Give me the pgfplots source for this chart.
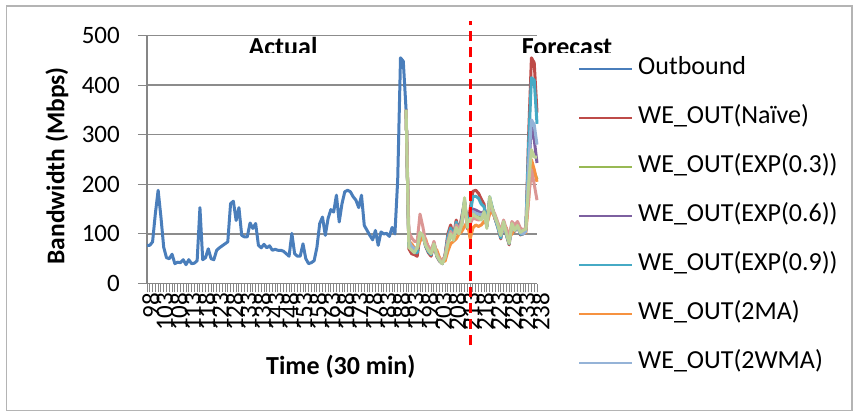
\documentclass[border=0pt]{standalone}
\usepackage{fontspec}
\setmainfont{Carlito}
\usepackage{pgfplots}
\pgfplotsset{compat=1.18}
\usepackage{pgfplotstable}

\definecolor{cOut}{HTML}{4A7EBB}
\definecolor{cRed}{HTML}{BE4B48}
\definecolor{cGreen}{HTML}{98B954}
\definecolor{cPurple}{HTML}{7D60A0}
\definecolor{cCyan}{HTML}{46AAC5}
\definecolor{cOrange}{HTML}{F69240}
\definecolor{cLBlue}{HTML}{95B3D7}
\definecolor{cPink}{HTML}{DB9694}
\definecolor{cLGreen}{HTML}{BCD196}
\definecolor{axisgray}{HTML}{868686}
\definecolor{gridgray}{HTML}{8C8C8C}
\definecolor{framegray}{HTML}{B4B4B4}

\pgfplotstableread{
t v
98 77
99 77
100 84
101 141
102 188
103 134
104 73
105 52
106 50
107 59
108 40
109 43
110 42
111 48
112 38
113 48
114 40
115 41
116 46
117 153
118 48
119 52
120 70
121 50
122 48
123 67
124 72
125 76
126 80
127 84
128 161
129 166
130 127
131 153
132 97
133 94
134 94
135 122
136 111
137 121
138 77
139 72
140 79
141 72
142 76
143 67
144 69
145 67
146 67
147 65
148 60
149 55
150 101
151 60
152 55
153 55
154 80
155 50
156 40
157 42
158 46
159 73
160 121
161 134
162 97
163 131
164 149
165 144
166 178
167 124
168 161
169 185
170 188
171 185
172 175
173 168
174 153
175 178
176 117
177 107
178 97
179 88
180 107
181 77
182 104
183 100
184 101
185 95
186 113
187 100
188 210
189 455
190 448
191 350
}\outbound

\pgfplotstableread{
t red green purple cyan orange lblue pink lgreen
191 350 350 350 350 350 350 350 350
192 70 78 82 75 85 85 105 73
193 60 70 70 68 80 75 92 67
194 58 66 66 62 72 70 85 62
195 55 72 70 62 70 72 85 73
196 95 100 98 100 85 100 140 103
197 100 97 97 98 95 98 115 97
198 75 80 78 76 90 80 85 77
199 62 68 66 64 72 68 75 67
200 55 62 60 58 62 62 65 60
201 82 78 80 82 70 78 85 80
202 55 60 58 56 68 60 60 57
203 45 50 48 46 52 48 50 47
204 40 43 42 40 45 42 45 40
205 58 52 55 56 45 53 55 53
206 100 78 88 95 65 85 85 80
207 118 98 105 112 80 100 105 100
208 95 92 92 94 85 90 92 87
209 128 110 115 124 90 112 118 113
210 105 105 105 106 100 104 108 100
211 135 118 125 130 105 120 125 120
212 165 160 165 168 115 160 155 173
213 110 125 118 112 125 120 118 113
214 150 128 130 140 90 125 120 130
215 186 140 150 175 112 145 132 140
216 188 138 148 176 118 142 130 135
217 182 133 145 172 115 140 128 132
218 170 135 142 160 118 138 130 128
219 160 140 145 155 125 142 138 145
220 115 118 115 115 120 118 118 111
221 170 165 168 175 140 160 158 175
222 150 148 150 152 145 148 150 150
223 130 132 130 130 130 132 138 134
224 112 118 115 112 120 116 122 117
225 90 100 96 92 102 97 105 97
226 125 118 120 124 110 118 128 125
227 98 105 100 98 112 102 110 101
228 78 88 84 80 92 85 92 81
229 122 112 118 120 100 115 125 121
230 105 110 108 106 112 108 118 107
231 120 115 116 119 112 114 125 117
232 98 105 102 99 110 102 112 103
233 100 105 102 100 105 100 108 107
234 110 108 108 110 102 105 112 110
235 300 190 230 280 170 240 170 200
236 455 240 320 415 250 330 230 270
237 445 225 290 410 230 320 200 255
238 345 210 243 322 205 280 168 255
}\fc

\begin{document}
\fontsize{25bp}{30bp}\selectfont
\begin{tikzpicture}
\useasboundingbox (0,0) rectangle (856bp,414bp);
\draw[color=framegray, line width=1.3bp] (6.5bp,3.5bp) rectangle (852bp,408bp);
\begin{axis}[
  at={(147bp,130.5bp)}, anchor=south west,
  scale only axis, width=390bp, height=248bp,
  xmin=98, xmax=238, ymin=0, ymax=500,
  clip=false,
  axis x line*=bottom, axis y line*=left,
  axis line style={color=axisgray, line width=1.3bp, -},
  ytick={0,100,...,500},
  ymajorgrids, grid style={color=gridgray, line width=1.5bp},
  xtick={98,103,...,238},
  minor xtick={98,...,238},
  tick align=outside,
  major tick length=9bp, minor tick length=9bp,
  tick style={color=axisgray, line width=0.9bp},
  /pgf/number format/assume math mode=true,
  /pgf/number format/1000 sep={},
  yticklabel style={anchor=east, inner sep=0pt, xshift=-18bp},
  xticklabel style={rotate=90, anchor=east, inner sep=0pt, yshift=-4bp},
  xlabel={Time (30 min)},
  xlabel style={at={(axis description cs:0.497,-0.337)}, anchor=center, font=\fontsize{26bp}{30bp}\selectfont\bfseries},
  ylabel={Bandwidth (Mbps)},
  ylabel style={at={(axis description cs:-0.2308,0.474)}, anchor=center, font=\fontsize{25.5bp}{30bp}\selectfont\bfseries},
  legend style={at={(rel axis cs:1.1051,0.9085)}, anchor=north west, draw=none, fill=none,
    row sep=27bp, column sep=5bp, inner sep=0pt,
    nodes={inner sep=0pt, text height=16bp, text depth=6bp},
    font=\fontsize{26bp}{30bp}\selectfont},
  legend cell align=left,
  legend image code/.code={\draw[#1, line width=2bp] (0bp,0bp) -- (53bp,0bp);},
  every axis plot/.append style={line width=3bp, line join=round, no markers},
]
\addplot[cOut] table[x=t,y=v]{\outbound};
\addlegendentry{Outbound}
\addplot[cRed] table[x=t,y=red]{\fc};
\addlegendentry{WE\_OUT(Naïve)}
\addplot[cGreen] table[x=t,y=green]{\fc};
\addlegendentry{WE\_OUT(EXP(0.3))}
\addplot[cPurple] table[x=t,y=purple]{\fc};
\addlegendentry{WE\_OUT(EXP(0.6))}
\addplot[cCyan] table[x=t,y=cyan]{\fc};
\addlegendentry{WE\_OUT(EXP(0.9))}
\addplot[cOrange] table[x=t,y=orange]{\fc};
\addlegendentry{WE\_OUT(2MA)}
\addplot[cLBlue] table[x=t,y=lblue]{\fc};
\addlegendentry{WE\_OUT(2WMA)}
\addplot[cPink, forget plot] table[x=t,y=pink]{\fc};
\addplot[cLGreen, forget plot] table[x=t,y=lgreen]{\fc};
\draw[red, line width=3bp, dash pattern=on 10bp off 6bp] (axis cs:214.3,-125) -- (axis cs:214.3,530);
\end{axis}
\begin{scope}
\clip (0,361.5bp) rectangle (856bp,414bp);
\node[anchor=base, inner sep=0pt, font=\fontsize{26bp}{30bp}\selectfont\bfseries] at (283bp,358bp) {Actual};
\node[anchor=base, inner sep=0pt, font=\fontsize{26bp}{30bp}\selectfont\bfseries] at (567bp,358bp) {Forecast};
\end{scope}
\end{tikzpicture}
\end{document}
